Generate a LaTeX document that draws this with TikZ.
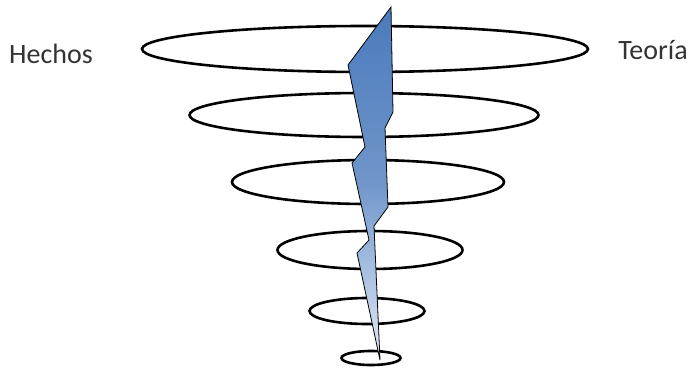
\documentclass[tikz,border=0pt]{standalone}
\usepackage{fontspec}
\setmainfont{Carlito}
\usepackage{xcolor}
\usetikzlibrary{shapes.geometric}

\definecolor{boltdark}{RGB}{74,122,188}
\definecolor{boltlight}{RGB}{226,234,246}

\begin{document}
\begin{tikzpicture}[x=1pt, y=-1pt,
    ring/.style={draw, ellipse, line width=2.6pt, inner sep=0pt},
    label/.style={font=\fontsize{28}{32}\selectfont, text=black!80, inner sep=0pt}]
  \useasboundingbox (0,0) rectangle (695,369);
  % rings, widest on top
  \foreach \cx/\cy/\w/\h/\n in {365/49/446/46/1, 364/115/349/44/2, 368/182/272/44/3,
                                370/250/185/38/4, 367/311/115/26/5, 371/358/59/14/6} {
    \node[ring, minimum width=\w pt, minimum height=\h pt] (ring\n) at (\cx,\cy) {};
  }
  % bolt through the rings
  \path[draw=black, line width=0.8pt, top color=boltdark, bottom color=boltlight,
        middle color=boltdark!75!boltlight]
    (391,7) -- (393,112) -- (385,128) -- (388,207) -- (374,226) -- (380,360)
    -- (357,253) -- (369,240) -- (352,163) -- (365,147) -- (348,65) -- cycle;
  \node[label] (hechos) at (51,54) {Hechos};
  \node[label] (teoria) at (653,50) {Teoría};
\end{tikzpicture}
\end{document}
